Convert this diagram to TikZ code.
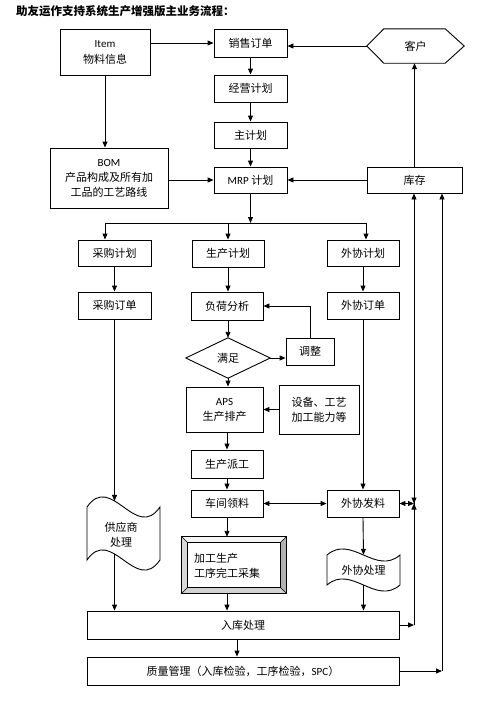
\documentclass[tikz,border=0pt]{standalone}
\usepackage{fontspec}
\setmainfont{Noto Sans CJK SC}
\newfontfamily\lat{Carlito}
\usetikzlibrary{arrows.meta,calc}
\newcommand\latf{\lat\fontsize{11}{13}\selectfont}
\begin{document}
\begin{tikzpicture}[x=1pt,y=-1pt,
  every node/.style={font=\fontsize{11}{15}\selectfont},
  box/.style={draw,line width=0.9pt,inner sep=0pt,align=center},
  txt/.style={inner sep=0pt,align=center},
  ln/.style={line width=0.9pt},
  arr/.style={line width=0.9pt,-{Triangle[length=6pt,width=5pt]}},
  arrtwo/.style={line width=0.9pt,{Triangle[length=6pt,width=5pt]}-{Triangle[length=6pt,width=5pt]}}]
\useasboundingbox (0,0) rectangle (488,702);
\fill[white] (0,0) rectangle (488,702);

\node[anchor=west,inner sep=0pt,font=\bfseries\fontsize{11.5}{14}\selectfont] (title) at (16,11) {助友运作支持系统生产增强版主业务流程：};

% top part
\node[box,minimum width=90pt,minimum height=46pt] (item) at (105,52) {{\latf Item}\\[1pt]物料信息};
\node[box,minimum width=73pt,minimum height=28pt] (xsdd) at (250.5,43) {销售订单};
\node[box,minimum width=73pt,minimum height=27pt] (jyjh) at (250.5,88.5) {经营计划};
\node[box,minimum width=73pt,minimum height=26pt] (zjh) at (250.5,135) {主计划};
\node[box,minimum width=73pt,minimum height=26pt] (mrp) at (250.5,180) {{\latf MRP} 计划};
\node[txt,minimum width=97pt,minimum height=34pt] (kehu) at (415.5,46) {客户};
\draw[ln] (kehu.west) -- ([xshift=17pt]kehu.north west) -- ([xshift=-19pt]kehu.north east) -- (kehu.east) -- ([xshift=-19pt]kehu.south east) -- ([xshift=17pt]kehu.south west) -- cycle;
\node[box,minimum width=95pt,minimum height=26pt] (kucun) at (414.5,180) {库存};
\node[box,minimum width=118pt,minimum height=60pt] (bom) at (109,178) {{\latf BOM}\\产品构成及所有加\\工品的工艺路线};

% plan row
\node[box,minimum width=73pt,minimum height=26pt] (cgjh) at (114.5,253) {采购计划};
\node[box,minimum width=72pt,minimum height=27pt] (scjh) at (228,253.5) {生产计划};
\node[box,minimum width=72pt,minimum height=26pt] (wxjh) at (363,253) {外协计划};
\node[box,minimum width=73pt,minimum height=27pt] (cgdd) at (114.5,305.5) {采购订单};
\node[box,minimum width=72pt,minimum height=28pt] (fhfx) at (227,306) {负荷分析};
\node[box,minimum width=72pt,minimum height=27pt] (wxdd) at (363,305.5) {外协订单};

% decision
\node[txt,minimum width=84pt,minimum height=40pt] (manzu) at (228,358) {满足};
\draw[ln] (manzu.west) -- (manzu.north) -- (manzu.east) -- (manzu.south) -- cycle;
\node[box,minimum width=48pt,minimum height=27pt] (tz) at (310,351.5) {调整};
\node[box,minimum width=77pt,minimum height=45pt] (aps) at (224.5,409.5) {{\latf APS}\\生产排产};
\node[box,minimum width=80pt,minimum height=49pt] (sbgy) at (319,409.5) {设备、工艺\\加工能力等};
\node[box,minimum width=72pt,minimum height=28pt] (scpg) at (227,464) {生产派工};
\node[box,minimum width=72pt,minimum height=27pt] (cjll) at (227,503.5) {车间领料};
\node[box,minimum width=72pt,minimum height=27pt] (wxfl) at (363,503.5) {外协发料};

% supplier tape
\node[txt,minimum width=73pt,minimum height=53pt] (gys) at (121,535) {供应商\\处理};
\draw[ln] (87,507) .. controls (111.33,472) and (135.67,542) .. (160,507) coordinate[pos=0.377] (gyst)
  -- (160,560) .. controls (135.67,595) and (111.33,525) .. (87,560) coordinate[pos=0.623] (gysb) -- cycle;

% bevel box
\node[txt,minimum width=104pt,minimum height=56pt] (jggs) at (234,565) {};
\coordinate (inw) at ($(jggs.north west)+(6,6)$);
\coordinate (ine) at ($(jggs.north east)+(-6,6)$);
\coordinate (ise) at ($(jggs.south east)+(-6,-6)$);
\coordinate (isw) at ($(jggs.south west)+(6,-6)$);
\fill[gray!8] (jggs.north west) -- (jggs.north east) -- (ine) -- (inw) -- cycle;
\fill[gray!30] (jggs.north west) -- (inw) -- (isw) -- (jggs.south west) -- cycle;
\fill[gray!60] (jggs.north east) -- (jggs.south east) -- (ise) -- (ine) -- cycle;
\fill[gray!35] (jggs.south west) -- (isw) -- (ise) -- (jggs.south east) -- cycle;
\draw[ln] (jggs.north west) rectangle (jggs.south east);
\draw[ln] (inw) rectangle (ise);
\draw[line width=0.5pt] (jggs.north west) -- (inw) (jggs.north east) -- (ine) (jggs.south east) -- (ise) (jggs.south west) -- (isw);
\node[txt,anchor=west,align=left] (jggst) at (194,566) {加工生产\\工序完工采集};

% outsourcing tape
\node[txt,minimum width=73pt,minimum height=30pt] (wxcl) at (363.5,570) {外协处理};
\draw[ln] (327,555) .. controls (351.33,534) and (375.67,576) .. (400,555)
  -- (400,585) .. controls (375.67,606) and (351.33,564) .. (327,585) -- cycle;

% bottom boxes
\node[box,minimum width=312pt,minimum height=28pt] (rkcl) at (243,625) {入库处理};
\node[box,minimum width=312pt,minimum height=28pt] (zlgl) at (243,671) {质量管理（入库检验，工序检验，{\latf SPC}）};

% connectors
\draw[arr] (item.east |- xsdd) -- (xsdd.west);
\draw[arr] (kehu.west) -- (kehu.west -| xsdd.east);
\draw[arr] (xsdd.south) -- (jyjh.north);
\draw[arr] (jyjh.south) -- (zjh.north);
\draw[arr] (zjh.south) -- (mrp.north);
\draw[arr] (item.south) -- (item.south |- bom.north);
\draw[arr] (bom.east |- mrp) -- (mrp.west);
\draw[arr] (kucun.west) -- (mrp.east);
\draw[arr] (kucun.north) -- (kucun.north |- kehu.south);

\coordinate (busL) at (105,223);
\coordinate (busR) at (366,223);
\draw[arr] (mrp.south) -- (mrp.south |- busL);
\draw[ln] (busL) -- (busR);
\draw[arr] (busL) -- (busL |- cgjh.north);
\draw[arr] (busL -| scjh) -- (scjh.north);
\draw[arr] (busR) -- (busR |- wxjh.north);

\draw[arr] (cgjh.south) -- (cgdd.north);
\draw[arr] (scjh.south) -- (scjh.south |- fhfx.north);
\draw[arr] (wxjh.south) -- (wxdd.north);
\draw[arr] (fhfx.south -| manzu) -- (manzu.north);
\draw[arr] (manzu.east) -- (manzu.east -| tz.west);
\draw[arr] (tz.north) -- (tz.north |- fhfx.east) -- (fhfx.east);
\draw[arr] (manzu.south) -- (manzu.south |- aps.north);
\draw[arr] (sbgy.west) -- (sbgy.west -| aps.east);
\draw[arr] (scpg.north |- aps.south) -- (scpg.north);
\draw[arr] (scpg.south) -- (cjll.north);
\draw[arrtwo] (cjll.east) -- (wxfl.west);
\draw[arr] (wxdd.south) -- (wxfl.north);

\draw[arr] (cgdd.south) -- (cgdd.south |- gyst);
\draw[arr] (gysb) -- (gysb |- rkcl.north);
\draw[arr] (cjll.south) -- (cjll.south |- jggs.north);
\draw[arr] (cjll.south |- jggs.south) -- (cjll.south |- rkcl.north);
\draw[arr] (wxfl.south) -- (wxcl.north);
\draw[arr] (wxcl.south) -- (wxcl.south |- rkcl.north);
\draw[arr] ([xshift=-6pt]rkcl.south) -- ([xshift=-6pt]zlgl.north);

\coordinate (jone) at (414,625);
\coordinate (jtwo) at (442,671);
\draw[arr] (rkcl.east) -- (jone);
\draw[arr] (jone) -- (jone |- kucun.south);
\draw[arr] (zlgl.east) -- (jtwo);
\draw[arr] (jtwo) -- (jtwo |- kucun.south);

\coordinate (jx) at (414,503.5);
\coordinate (jxa) at (414,489);
\coordinate (jxb) at (414,518);
\draw[arrtwo] (wxfl.east) -- (jx);
\draw[arr] (jxa) -- (jx);
\draw[arr] (jxb) -- (jx);
\end{tikzpicture}
\end{document}
